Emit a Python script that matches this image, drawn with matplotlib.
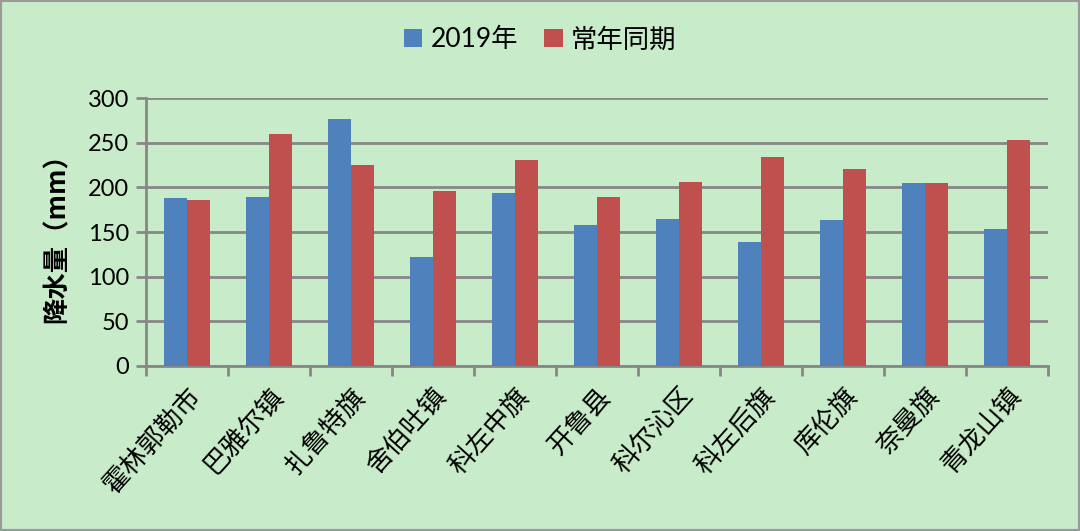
import numpy as np
import matplotlib
matplotlib.use("Agg")
import matplotlib.pyplot as plt
from matplotlib.patches import Rectangle

plt.rcParams['font.family'] = ['Lato', 'Noto Sans CJK SC', 'DejaVu Sans']

categories = ['霍林郭勒市', '巴雅尔镇', '扎鲁特旗', '舍伯吐镇', '科左中旗', '开鲁县',
              '科尔沁区', '科左后旗', '库伦旗', '奈曼旗', '青龙山镇']
rain_2019 = [188, 189, 277, 122, 194, 158, 165, 139, 164, 205, 153]
rain_normal = [186, 260, 225, 196, 231, 189, 206, 234, 221, 205, 253]
series_names = ['2019年', '常年同期']

bg = '#c8ecca'
grid_c = '#878787'

fig = plt.figure(figsize=(10.8, 5.31), dpi=100, facecolor=bg)
ax = fig.add_axes([0.135, 0.311, 0.835, 0.504], facecolor=bg)

x = np.arange(len(categories))
w = 0.28
ax.bar(x - w / 2, rain_2019, w, color='#4f81bd', label=series_names[0], zorder=3)
ax.bar(x + w / 2, rain_normal, w, color='#c0504d', label=series_names[1], zorder=3)

ax.set_xlim(-0.5, len(categories) - 0.5)
ax.set_ylim(0, 300)
ax.set_yticks(range(0, 301, 50))
ax.yaxis.grid(True, color=grid_c, linewidth=2, zorder=0)

# 分类标签放在组中间，刻度线放在组之间
ax.set_xticks(np.arange(-0.5, len(categories), 1), minor=False)
ax.set_xticklabels([])
ax.set_xticks(x, minor=True)
ax.set_xticklabels(categories, minor=True, rotation=48, ha='right',
                   rotation_mode='anchor', fontsize=19,
                   family=['Noto Sans CJK SC'])
ax.tick_params(axis='x', which='major', length=7, width=2, color=grid_c, direction='out')
ax.tick_params(axis='x', which='minor', length=0, pad=12)
ax.tick_params(axis='y', length=7, width=2, color=grid_c, labelsize=17, pad=5)

for s in ['top', 'right']:
    ax.spines[s].set_visible(False)
for s in ['left', 'bottom']:
    ax.spines[s].set_color(grid_c)
    ax.spines[s].set_linewidth(2)

ax.set_ylabel('降水量（mm）', fontsize=19, fontweight='bold', labelpad=12,
              family=['Noto Sans CJK SC'])

fig.legend(loc='center', bbox_to_anchor=(0.5, 0.925), ncol=2, frameon=False,
           fontsize=19, handlelength=0.7, handleheight=0.7, columnspacing=1.0,
           handletextpad=0.3)

fig.patches.append(Rectangle((0, 0), 1, 1, transform=fig.transFigure, fill=False,
                             edgecolor='#9a9a9a', linewidth=3))

fig.savefig('out.png', dpi=100, facecolor=bg)
